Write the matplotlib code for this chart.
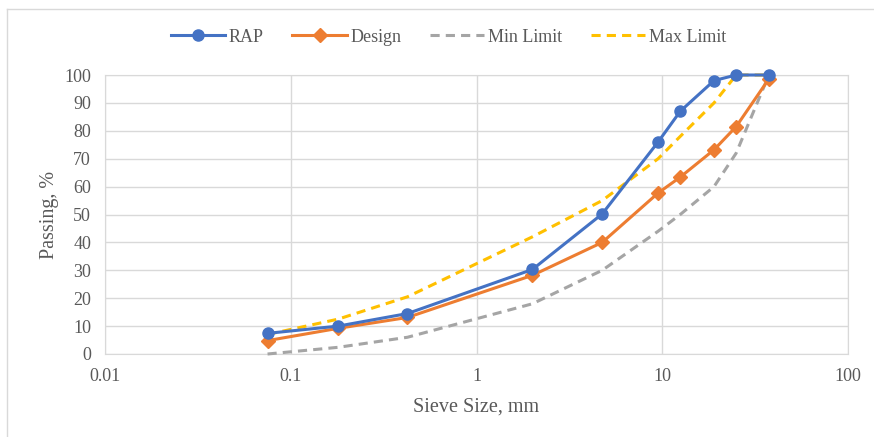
import numpy as np
import matplotlib.pyplot as plt
from matplotlib.lines import Line2D

# sieve sizes (mm) and percent passing
sieve = [0.075, 0.18, 0.425, 2.0, 4.75, 9.5, 12.5, 19, 25, 37.5]
rap = [7.4, 10, 14.5, 30.3, 50.2, 76, 87, 98, 100, 100]
design = [4.8, 9.2, 13.1, 28.2, 40, 57.7, 63.4, 73.2, 81.5, 98.6]
min_limit = [0, 2.4, 6, 18, 30, 44, 50, 60, 72, 100]
max_limit = [7, 12.5, 20.5, 42, 55, 70, 78, 90, 100, 100]

plt.rcParams['font.family'] = ['Liberation Serif', 'DejaVu Serif']
txt = '#595959'
grid = '#d9d9d9'

fig = plt.figure(figsize=(8.74, 4.37), dpi=100)
ax = fig.add_axes([105/874, 1 - 354/437, (848-105)/874, (354-75)/437])

ax.plot(sieve, min_limit, color='#A5A5A5', lw=2.2, ls=(0, (3, 2)), label='Min Limit', zorder=3, clip_on=False)
ax.plot(sieve, max_limit, color='#FFC000', lw=2.2, ls=(0, (3, 2)), label='Max Limit', zorder=3, clip_on=False)
ax.plot(sieve, design, color='#ED7D31', lw=2.2, marker='D', ms=7, label='Design', zorder=4, clip_on=False)
ax.plot(sieve, rap, color='#4472C4', lw=2.2, marker='o', ms=8, label='RAP', zorder=5, clip_on=False)

ax.set_xscale('log')
ax.set_xlim(0.01, 100)
ax.set_ylim(0, 100)
ax.set_xticks([0.01, 0.1, 1, 10, 100])
ax.set_xticklabels(['0.01', '0.1', '1', '10', '100'])
ax.set_yticks(range(0, 101, 10))
ax.minorticks_off()
ax.grid(True, color=grid, lw=1)
ax.set_axisbelow(True)
for s in ax.spines.values():
    s.set_color(grid)
ax.tick_params(length=0, colors=txt, labelsize=13, pad=10)
ax.set_xlabel('Sieve Size, mm', color=txt, fontsize=14.5, labelpad=9)
ax.set_ylabel('Passing, %', color=txt, fontsize=14.5, labelpad=4)

h, l = ax.get_legend_handles_labels()
order = [3, 2, 0, 1]
fig.legend([h[i] for i in order], [l[i] for i in order], loc='center',
           bbox_to_anchor=(0.513, 1 - 37/437), ncol=4, frameon=False,
           fontsize=13, labelcolor=txt, handlelength=3.0, handletextpad=0.2,
           columnspacing=1.6)

# chart area border
fig.add_artist(Line2D([7/874, 1], [1 - 9/437, 1 - 9/437], color=grid, lw=1))
fig.add_artist(Line2D([7/874, 7/874], [0, 1 - 9/437], color=grid, lw=1))

fig.savefig('out.png', dpi=100)
